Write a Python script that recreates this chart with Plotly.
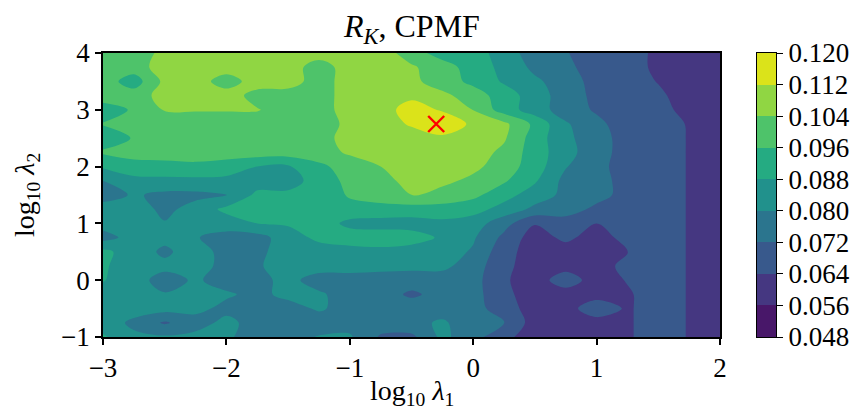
import plotly.graph_objects as go

# grid of log10(lambda1) (x) and log10(lambda2) (y)
x_vals = [-3.0, -2.75, -2.5, -2.25, -2.0, -1.75, -1.5, -1.25, -1.0, -0.75, -0.5,
          -0.25, 0.0, 0.25, 0.5, 0.75, 1.0, 1.25, 1.5, 1.75, 2.0]
y_vals_top_down = [4.0, 3.75, 3.5, 3.25, 3.0, 2.75, 2.5, 2.25, 2.0, 1.75, 1.5,
                   1.25, 1.0, 0.75, 0.5, 0.25, 0.0, -0.25, -0.5, -0.75, -1.0]

# R_K values, rows listed from top (y=4) to bottom (y=-1)
rk_rows = [
    [0.100, 0.100, 0.106, 0.108, 0.108, 0.108, 0.108, 0.108, 0.108, 0.108, 0.100, 0.092, 0.092, 0.084, 0.076, 0.0725, 0.068, 0.066, 0.063, 0.060, 0.060],
    [0.100, 0.100, 0.108, 0.108, 0.108, 0.108, 0.108, 0.100, 0.108, 0.108, 0.105, 0.100, 0.092, 0.086, 0.078, 0.074, 0.068, 0.066, 0.063, 0.060, 0.060],
    [0.100, 0.092, 0.106, 0.108, 0.100, 0.108, 0.108, 0.100, 0.108, 0.108, 0.106, 0.100, 0.094, 0.087, 0.0815, 0.076, 0.069, 0.066, 0.0638, 0.060, 0.060],
    [0.100, 0.100, 0.107, 0.108, 0.108, 0.101, 0.100, 0.100, 0.108, 0.108, 0.110, 0.106, 0.100, 0.092, 0.084, 0.076, 0.070, 0.067, 0.0648, 0.062, 0.060],
    [0.092, 0.097, 0.1045, 0.1045, 0.1045, 0.1045, 0.100, 0.100, 0.108, 0.108, 0.116, 0.111, 0.1038, 0.092, 0.084, 0.076, 0.071, 0.068, 0.066, 0.062, 0.060],
    [0.0965, 0.098, 0.100, 0.100, 0.100, 0.100, 0.100, 0.100, 0.106, 0.108, 0.113, 0.119, 0.110, 0.106, 0.094, 0.081, 0.074, 0.068, 0.067, 0.0635, 0.060],
    [0.092, 0.0965, 0.100, 0.100, 0.100, 0.100, 0.100, 0.102, 0.106, 0.108, 0.108, 0.110, 0.108, 0.105, 0.092, 0.082, 0.075, 0.069, 0.068, 0.0635, 0.060],
    [0.097, 0.100, 0.100, 0.100, 0.100, 0.100, 0.100, 0.101, 0.105, 0.108, 0.108, 0.108, 0.108, 0.102, 0.092, 0.083, 0.075, 0.069, 0.068, 0.0635, 0.060],
    [0.089, 0.092, 0.093, 0.094, 0.092, 0.088, 0.087, 0.094, 0.100, 0.104, 0.108, 0.108, 0.106, 0.100, 0.092, 0.0805, 0.074, 0.069, 0.068, 0.0635, 0.060],
    [0.080, 0.086, 0.086, 0.086, 0.086, 0.084, 0.084, 0.092, 0.098, 0.102, 0.106, 0.106, 0.102, 0.097, 0.089, 0.0775, 0.075, 0.069, 0.068, 0.0635, 0.060],
    [0.076, 0.081, 0.078, 0.078, 0.0795, 0.090, 0.090, 0.090, 0.097, 0.100, 0.1045, 0.101, 0.098, 0.091, 0.084, 0.078, 0.075, 0.069, 0.068, 0.0635, 0.060],
    [0.084, 0.084, 0.078, 0.083, 0.090, 0.091, 0.091, 0.092, 0.093, 0.093, 0.092, 0.093, 0.091, 0.085, 0.078, 0.076, 0.070, 0.068, 0.068, 0.0635, 0.060],
    [0.083, 0.085, 0.0805, 0.085, 0.084, 0.088, 0.089, 0.092, 0.086, 0.085, 0.085, 0.086, 0.084, 0.075, 0.0645, 0.068, 0.064, 0.068, 0.068, 0.0635, 0.060],
    [0.077, 0.083, 0.082, 0.0805, 0.077, 0.077, 0.084, 0.090, 0.092, 0.092, 0.091, 0.087, 0.081, 0.070, 0.060, 0.066, 0.060, 0.067, 0.068, 0.0635, 0.060],
    [0.090, 0.084, 0.0785, 0.084, 0.077, 0.078, 0.084, 0.084, 0.085, 0.086, 0.085, 0.084, 0.079, 0.067, 0.060, 0.060, 0.060, 0.0638, 0.068, 0.0635, 0.060],
    [0.089, 0.084, 0.082, 0.084, 0.077, 0.079, 0.084, 0.083, 0.083, 0.082, 0.082, 0.082, 0.076, 0.066, 0.060, 0.061, 0.061, 0.066, 0.068, 0.0635, 0.060],
    [0.0885, 0.083, 0.077, 0.081, 0.077, 0.078, 0.082, 0.077, 0.077, 0.077, 0.076, 0.076, 0.075, 0.065, 0.060, 0.0685, 0.060, 0.0645, 0.068, 0.0635, 0.060],
    [0.084, 0.083, 0.0805, 0.083, 0.081, 0.078, 0.082, 0.081, 0.077, 0.076, 0.0705, 0.075, 0.075, 0.066, 0.060, 0.060, 0.061, 0.063, 0.068, 0.0635, 0.060],
    [0.084, 0.084, 0.083, 0.082, 0.078, 0.077, 0.077, 0.081, 0.077, 0.076, 0.077, 0.077, 0.075, 0.068, 0.060, 0.061, 0.0685, 0.063, 0.068, 0.0635, 0.060],
    [0.085, 0.078, 0.071, 0.077, 0.082, 0.077, 0.076, 0.076, 0.077, 0.076, 0.078, 0.081, 0.076, 0.0725, 0.060, 0.060, 0.061, 0.063, 0.068, 0.0635, 0.060],
    [0.089, 0.082, 0.081, 0.082, 0.081, 0.077, 0.077, 0.0805, 0.081, 0.071, 0.070, 0.082, 0.075, 0.066, 0.060, 0.060, 0.060, 0.063, 0.068, 0.0635, 0.060],
]

# contour levels, colourbar tick labels and band colours (viridis)
levels = [0.048, 0.056, 0.064, 0.072, 0.080, 0.088, 0.096, 0.104, 0.112, 0.120]
level_labels = ["0.048", "0.056", "0.064", "0.072", "0.080", "0.088", "0.096", "0.104", "0.112", "0.120"]
band_colors = ["#481769", "#453781", "#38598c", "#2b758e", "#21918c",
               "#25ab82", "#4ec36a", "#90d643", "#dbe31a"]

# best hyper-parameter (red cross)
best_x = [-0.3]
best_y = [2.75]

y_vals = y_vals_top_down[::-1]
z = rk_rows[::-1]
nb = len(band_colors)

# piecewise-constant colourscale for the contour (band k is sampled at (k+1)/(nb+1))
cscale = []
for k, c in enumerate(band_colors):
    c0 = 0.0 if k == 0 else (k + 0.5) / (nb + 1)
    c1 = 1.0 if k == nb - 1 else (k + 1.5) / (nb + 1)
    cscale.append([c0, c])
    cscale.append([c1, c])

# discrete colourscale for the colour-bar strip
bar_scale = []
for k, c in enumerate(band_colors):
    bar_scale.append([k / (nb - 1), c])

font_family = "Liberation Serif"
tick_font = dict(family=font_family, size=27, color="black")

W, H = 856, 413
L, R, T, B = 103, 80, 53, 76
plot_right = 720
cb_left, cb_right = 757, 776
pw = W - L - R
ph = H - T - B

fig = go.Figure()
fig.add_trace(go.Contour(
    x=x_vals, y=y_vals, z=z,
    colorscale=cscale, showscale=False,
    contours=dict(start=levels[0], end=levels[-1], size=levels[1] - levels[0],
                  coloring="fill", showlines=False),
    line=dict(width=0),
    hoverinfo="skip",
    xaxis="x", yaxis="y",
))

fig.add_trace(go.Scatter(
    x=best_x, y=best_y, mode="markers",
    marker=dict(symbol="x-thin", size=16, line=dict(color="red", width=2.4), color="red"),
    showlegend=False, hoverinfo="skip",
    xaxis="x", yaxis="y",
))

# colour bar drawn as a heatmap strip on its own axes
fig.add_trace(go.Heatmap(
    x=[0, 1], y=levels, z=[[k] for k in range(nb)],
    colorscale=bar_scale, zmin=0, zmax=nb - 1, showscale=False,
    hoverinfo="skip", xaxis="x2", yaxis="y2",
))

axis_common = dict(
    showline=True, linecolor="black", linewidth=1.5, mirror=True,
    ticks="outside", ticklen=6, tickwidth=1.5, tickcolor="black",
    showgrid=False, zeroline=False,
    tickfont=tick_font,
)

fig.update_layout(
    width=W, height=H,
    margin=dict(l=L, r=R, t=T, b=B, autoexpand=False),
    paper_bgcolor="white", plot_bgcolor="white",
    xaxis=dict(domain=[0, (plot_right - L) / pw], range=[-3, 2],
               tickvals=[-3, -2, -1, 0, 1, 2], automargin=False, **axis_common),
    yaxis=dict(domain=[0, 1], range=[-1, 4], tickvals=[-1, 0, 1, 2, 3, 4],
               automargin=False, **axis_common),
    xaxis2=dict(domain=[(cb_left - L) / pw, (cb_right - L) / pw], range=[0, 1],
                anchor="y2", showline=True, linecolor="black", linewidth=1.2, mirror=True,
                showticklabels=False, ticks="", showgrid=False, zeroline=False, automargin=False),
    yaxis2=dict(domain=[0, 1], range=[levels[0], levels[-1]], anchor="x2", side="right",
                tickmode="array", tickvals=levels, ticktext=level_labels,
                showline=True, linecolor="black", linewidth=1.2, mirror=True,
                ticks="outside", ticklen=6, tickwidth=1.2, tickcolor="black",
                showgrid=False, zeroline=False, tickfont=tick_font, automargin=False),
    showlegend=False,
    annotations=[
        dict(text="<i>R</i><sub><i>K</i></sub>, CPMF", xref="paper", yref="paper",
             x=((L + plot_right) / 2 - L) / pw, y=1 + 25 / ph,
             xanchor="center", yanchor="middle", showarrow=False,
             font=dict(family=font_family, size=32, color="black")),
        dict(text="log<sub>10</sub> <i>λ</i><sub>1</sub>", xref="paper", yref="paper",
             x=((L + plot_right) / 2 - L) / pw, y=-(392 - (H - B)) / ph,
             xanchor="center", yanchor="middle", showarrow=False,
             font=dict(family=font_family, size=28, color="black")),
        dict(text="log<sub>10</sub> <i>λ</i><sub>2</sub>", xref="paper", yref="paper",
             x=-(L - 26) / pw, y=(337 - 195) / ph,
             xanchor="center", yanchor="middle", showarrow=False, textangle=-90,
             font=dict(family=font_family, size=28, color="black")),
    ],
)

fig.write_html("out.html")
